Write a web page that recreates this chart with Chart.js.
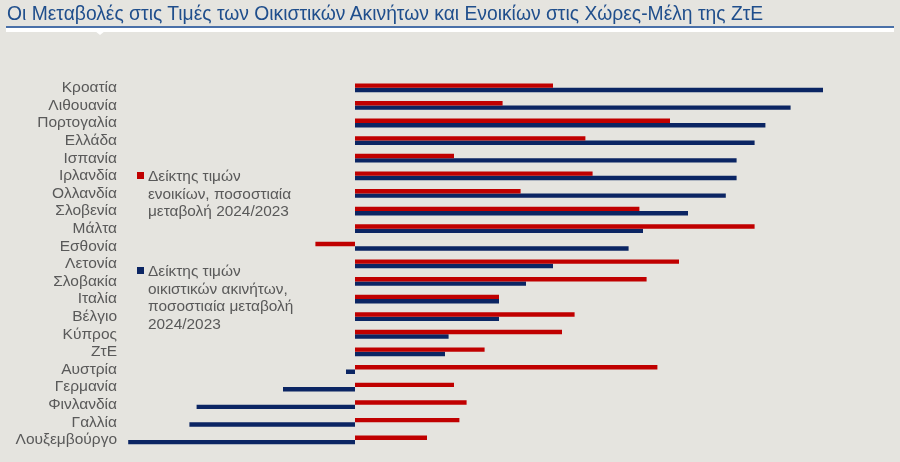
<!DOCTYPE html>
<html>
<head>
<meta charset="utf-8">
<script src="https://cdn.jsdelivr.net/npm/chart.js@4.4.1/dist/chart.umd.min.js"></script>
<style>
  html, body { margin: 0; padding: 0; }
  body { width: 900px; height: 462px; background: #e5e4df; position: relative; overflow: hidden; font-family: "Liberation Sans", Arial, sans-serif; }
  #title { position: absolute; left: 7px; top: 3px; font-family: "Liberation Sans Narrow", "Liberation Sans", Arial, sans-serif; font-size: 19.3px; color: #1f4e8c; white-space: nowrap; }
  #rule { position: absolute; left: 6px; top: 26px; width: 888px; height: 2px; background: #4a70a8; }
  #band { position: absolute; left: 6px; top: 28px; width: 888px; height: 4px; background: #ffffff; }
  #notch { position: absolute; left: 95px; top: 31px; width: 0; height: 0; border-left: 5px solid transparent; border-right: 5px solid transparent; border-top: 4px solid #ffffff; }
  #wrap { position: absolute; left: 0; top: 0; width: 900px; height: 462px; }
  .leg { position: absolute; font-size: 15.4px; line-height: 17.6px; color: #595959; }
  .leg .sw { position: absolute; left: -11px; top: 5px; width: 7px; height: 7px; }
</style>
</head>
<body>
<div id="wrap"><canvas id="chart" width="900" height="462"></canvas></div>
<div id="title">Οι Μεταβολές στις Τιμές των Οικιστικών Ακινήτων και Ενοικίων στις Χώρες-Μέλη της ΖτΕ</div>
<div id="rule"></div>
<div id="band"></div>
<div id="notch"></div>
<div id="legend"></div>
<script>
const countries = ['Κροατία', 'Λιθουανία', 'Πορτογαλία', 'Ελλάδα', 'Ισπανία', 'Ιρλανδία', 'Ολλανδία', 'Σλοβενία', 'Μάλτα', 'Εσθονία', 'Λετονία', 'Σλοβακία', 'Ιταλία', 'Βέλγιο', 'Κύπρος', 'ΖτΕ', 'Αυστρία', 'Γερμανία', 'Φινλανδία', 'Γαλλία', 'Λουξεμβούργο'];

// rent index, % change 2024/2023
const rentChange = [5.5, 4.1, 8.75, 6.4, 2.75, 6.6, 4.6, 7.9, 11.1, -1.1, 9.0, 8.1, 4.0, 6.1, 5.75, 3.6, 8.4, 2.75, 3.1, 2.9, 2.0];
// residential property price index, % change 2024/2023
const priceChange = [13.0, 12.1, 11.4, 11.1, 10.6, 10.6, 10.3, 9.25, 8.0, 7.6, 5.5, 4.75, 4.0, 4.0, 2.6, 2.5, -0.25, -2.0, -4.4, -4.6, -6.3];

const rentLabel = ['Δείκτης τιμών', 'ενοικίων, ποσοστιαία', 'μεταβολή 2024/2023'];
const priceLabel = ['Δείκτης τιμών', 'οικιστικών ακινήτων,', 'ποσοστιαία μεταβολή', '2024/2023'];

const RED = '#c00000';
const BLUE = '#0b2563';

const chart = new Chart(document.getElementById('chart').getContext('2d'), {
  type: 'bar',
  data: {
    labels: countries,
    datasets: [
      { label: rentLabel.join(' '), data: rentChange, backgroundColor: RED, categoryPercentage: 0.5, barPercentage: 1.0 },
      { label: priceLabel.join(' '), data: priceChange, backgroundColor: BLUE, categoryPercentage: 0.5, barPercentage: 1.0 }
    ]
  },
  options: {
    indexAxis: 'y',
    responsive: false,
    animation: false,
    layout: { padding: { top: 79, bottom: 11.5, left: 0, right: 41 } },
    plugins: { legend: { display: false }, tooltip: { enabled: false } },
    scales: {
      x: { display: false, min: -6.5, max: 14 },
      y: {
        grid: { display: false, drawTicks: false },
        border: { display: false },
        ticks: { autoSkip: false, color: '#595959', padding: 4, font: { family: '"Liberation Sans", Arial, sans-serif', size: 15.5 } },
        afterFit: (scale) => { scale.width = 121; }
      }
    }
  }
});

// legend built from datasets
const legend = document.getElementById('legend');
const legendPos = [{ left: 148, top: 167 }, { left: 148, top: 262 }];
[rentLabel, priceLabel].forEach((lines, i) => {
  const d = document.createElement('div');
  d.className = 'leg';
  d.style.left = legendPos[i].left + 'px';
  d.style.top = legendPos[i].top + 'px';
  d.innerHTML = '<span class="sw" style="background:' + chart.data.datasets[i].backgroundColor + '"></span>' + lines.join('<br>');
  legend.appendChild(d);
});
</script>
</body>
</html>
